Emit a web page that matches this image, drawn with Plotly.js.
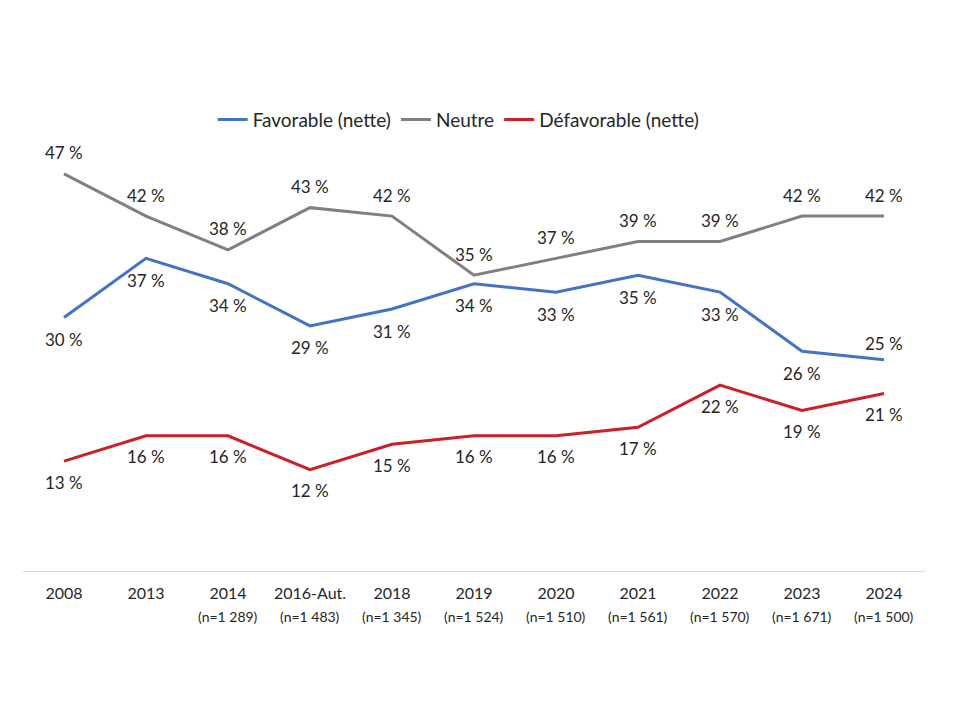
<!DOCTYPE html>
<html>
<head>
<meta charset="utf-8">
<script src="https://cdn.plot.ly/plotly-3.0.1.min.js"></script>
<style>html,body{margin:0;padding:0;background:#fff}#chart{width:960px;height:720px}</style>
</head>
<body>
<div id="chart"></div>
<script>
const categories = ["2008","2013","2014","2016-Aut.","2018","2019","2020","2021","2022","2023","2024"];
const sampleSizes = ["","","(n=1 289)","(n=1 483)","(n=1 345)","(n=1 524)","(n=1 510)","(n=1 561)","(n=1 570)","(n=1 671)","(n=1 500)"];
const favorable = [30,37,34,29,31,34,33,35,33,26,25];
const neutre = [47,42,38,43,42,35,37,39,39,42,42];
const defavorable = [13,16,16,12,15,16,16,17,22,19,21];

const FONT = "Lato, 'Open Sans', sans-serif";
const TXT = "#262626";
const labelFont = {family:FONT, size:17, color:TXT};

const traces = [
  {name:"Favorable (nette)", x:categories, y:favorable, mode:"lines", line:{color:"#4472C4", width:3}},
  {name:"Neutre", x:categories, y:neutre, mode:"lines", line:{color:"#808080", width:3}},
  {name:"Défavorable (nette)", x:categories, y:defavorable, mode:"lines", line:{color:"#CB2026", width:3}}
];

const annotations = [];
function addLabels(arr, shiftFn){
  arr.forEach((v,i)=>annotations.push({x:i, y:v, xref:"x", yref:"y", text:v+" %", showarrow:false, yshift:shiftFn(i), font:labelFont, xanchor:"center", yanchor:"middle"}));
}
addLabels(neutre, ()=>21);
addLabels(favorable, i => i === categories.length-1 ? 16 : -22);
addLabels(defavorable, ()=>-21);
sampleSizes.forEach((s,i)=>{ if(s) annotations.push({x:i, y:-0.0907, xref:"x", yref:"paper", text:s, showarrow:false, font:{family:FONT, size:14, color:TXT}, xanchor:"center", yanchor:"middle"}); });

const layout = {
  width:960, height:720,
  paper_bgcolor:"#fff", plot_bgcolor:"#fff",
  margin:{l:23, r:35, t:64, b:149},
  showlegend:true,
  legend:{orientation:"h", x:0.483, xanchor:"center", y:0.89, yanchor:"middle", font:{family:FONT, size:19, color:TXT}, itemwidth:30, tracegroupgap:0},
  xaxis:{type:"category", showgrid:false, zeroline:false, showline:true, linecolor:"#D9D9D9", linewidth:1, ticks:"", ticklabelstandoff:8, tickfont:{family:FONT, size:16, color:TXT}, range:[-0.5,10.5]},
  yaxis:{range:[0,60], visible:false, showgrid:false, zeroline:false},
  annotations:annotations
};

Plotly.newPlot("chart", traces, layout, {displayModeBar:false, staticPlot:true});
</script>
</body>
</html>
